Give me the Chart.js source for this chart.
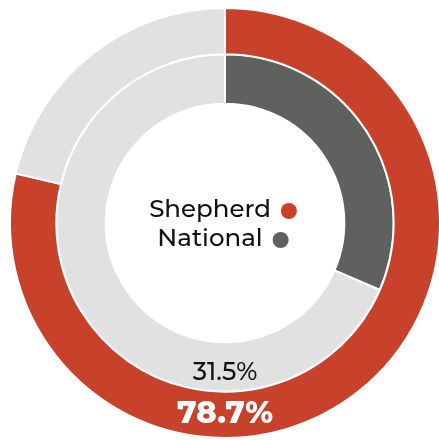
<!DOCTYPE html>
<html>
<head>
<meta charset="utf-8">
<script src="https://cdn.jsdelivr.net/npm/chart.js@4"></script>
<style>
    html, body { margin: 0; padding: 0; background: #fff; overflow: hidden; }
    body { width: 439px; height: 440px; position: relative; }
    #wrap { position: absolute; left: 9px; top: 7px; width: 432px; height: 432px; }
</style>
</head>
<body>
<div id="wrap"><canvas id="chartRings" width="432" height="432"></canvas></div>
<script>
// Data
const series = ['Shepherd', 'National'];
const values = [78.7, 31.5];
const labels = ['78.7%', '31.5%'];

const COLORS = {
    shepherd: '#c8412b',
    national: '#5f615f',
    rest: '#e0e1e0',
    text: '#111111'
};
const FONT = '"Montserrat", "Open Sans", sans-serif';

// draws the value labels at the bottom of each ring + the centre legend
const ringText = {
    id: 'ringText',
    afterDraw(chart) {
        const ctx = chart.ctx;
        const outer = chart.getDatasetMeta(0).data[0];
        const inner = chart.getDatasetMeta(1).data[0];
        const cx = outer.x, cy = outer.y;
        ctx.save();
        ctx.textAlign = 'center';
        ctx.textBaseline = 'middle';

        // outer value
        ctx.fillStyle = '#ffffff';
        ctx.font = '800 31px ' + FONT;
        ctx.fillText(labels[0], cx, cy + (outer.innerRadius + outer.outerRadius) / 2 - 1);

        // inner value
        ctx.fillStyle = COLORS.text;
        ctx.font = '500 25px ' + FONT;
        ctx.fillText(labels[1], cx, cy + (inner.innerRadius + inner.outerRadius) / 2 + 6);

        // centre legend
        const dots = [COLORS.shepherd, COLORS.national];
        ctx.font = '500 24.5px ' + FONT;
        ctx.textAlign = 'left';
        series.forEach((name, i) => {
            const y = cy - 13 + i * 29;
            const w = ctx.measureText(name).width;
            const total = w + 10 + 16;
            const x0 = cx - 2 - total / 2;
            ctx.fillStyle = COLORS.text;
            ctx.fillText(name, x0, y);
            ctx.beginPath();
            ctx.arc(x0 + w + 10 + 8, y + 1, 8, 0, Math.PI * 2);
            ctx.fillStyle = dots[i];
            ctx.fill();
        });
        ctx.restore();
    }
};

new Chart(document.getElementById('chartRings'), {
    type: 'doughnut',
    data: {
        labels: ['value', 'rest'],
        datasets: [{
            data: [values[0], 100 - values[0]],
            backgroundColor: [COLORS.shepherd, COLORS.rest],
            borderColor: '#ffffff',
            borderWidth: 2,
            weight: 46
        }, {
            data: [values[1], 100 - values[1]],
            backgroundColor: [COLORS.national, COLORS.rest],
            borderColor: '#ffffff',
            borderWidth: 2,
            weight: 49
        }]
    },
    options: {
        responsive: false,
        animation: false,
        cutout: '55.5%',
        plugins: {
            legend: { display: false },
            tooltip: { enabled: false }
        }
    },
    plugins: [ringText]
});
</script>
</body>
</html>
